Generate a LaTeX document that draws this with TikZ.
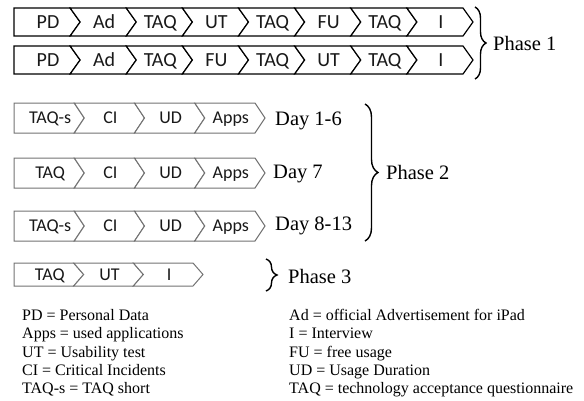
\documentclass[tikz,border=0pt]{standalone}
\usepackage{fontspec}
\setmainfont{Liberation Serif}
\newfontfamily\carl{Carlito}
\usetikzlibrary{decorations.pathreplacing}
\tikzset{
  segA/.style={draw=black, line width=1.2pt, fill=white, line join=miter},
  segB/.style={draw=black!55, line width=1pt, fill=white, line join=miter},
  bracestyle/.style={decorate, line width=1.4pt, draw=black},
  phaselabel/.style={anchor=base west, inner sep=0pt, font=\fontsize{20.5}{24}\selectfont},
  daylabel/.style={anchor=base west, inner sep=0pt, font=\fontsize{20.5}{24}\selectfont},
  legend/.style={anchor=base west, inner sep=0pt, font=\fontsize{16}{18}\selectfont},
}
\newcommand{\chevrow}[7]{%
  \foreach \lab [count=\i from 0] in {#7} {%
    \pgfmathsetmacro\xa{14+\i*#4}%
    \pgfmathsetmacro\xb{14+(\i+1)*#4}%
    \pgfmathsetmacro\ym{#2+#3/2}%
    \ifnum\i=0
      \draw[#5] (\xa,#2) -- (\xb,#2) -- (\xb+10,\ym) -- (\xb,#2+#3) -- (\xa,#2+#3) -- cycle;
    \else
      \draw[#5] (\xa,#2) -- (\xb,#2) -- (\xb+10,\ym) -- (\xb,#2+#3) -- (\xa,#2+#3) -- (\xa+10,\ym) -- cycle;
    \fi
    \node[anchor=base, inner sep=0pt, text=black!90, font=\carl\fontsize{#6}{#6}\selectfont] (#1-\i) at ({(\xa+\xb+10)/2+1}, {\ym+0.322*#6}) {\lab};
  }%
}
\begin{document}
\begin{tikzpicture}[x=1pt, y=-1pt]
\useasboundingbox (0,0) rectangle (584,400);
% Phase 1
\chevrow{ra}{8}{28}{56.125}{segA}{20}{PD,Ad,TAQ,UT,TAQ,FU,TAQ,I}
\chevrow{rb}{46}{28}{56.125}{segA}{20}{PD,Ad,TAQ,FU,TAQ,UT,TAQ,I}
% Phase 2
\chevrow{rc}{103}{30}{60.25}{segB}{18}{TAQ-s,CI,UD,Apps}
\chevrow{rd}{158}{30}{60.25}{segB}{18}{TAQ,CI,UD,Apps}
\chevrow{re}{211}{30}{60.25}{segB}{18}{TAQ-s,CI,UD,Apps}
% Phase 3
\chevrow{rf}{263}{23}{59.67}{segB}{18}{TAQ,UT,I}
% braces
\draw[bracestyle, decoration={brace, amplitude=11pt}] (475,7) coordinate (b1s) -- (475,79) coordinate (b1e);
\draw[bracestyle, decoration={brace, amplitude=13pt}] (365,104) coordinate (b2s) -- (365,241) coordinate (b2e);
\draw[bracestyle, decoration={brace, amplitude=11pt}] (266,259) coordinate (b3s) -- (266,291) coordinate (b3e);
% phase labels
\node[phaselabel] (ph1) at (493,50) {Phase 1};
\node[phaselabel] (ph2) at (386,179) {Phase 2};
\node[phaselabel] (ph3) at (288,283) {Phase 3};
% day labels
\node[daylabel] (d1) at (275,125.5) {Day 1-6};
\node[daylabel] (d2) at (273,178) {Day 7};
\node[daylabel] (d3) at (275,230) {Day 8-13};
% legend
\node[legend] (l1) at (22,320.5) {PD = Personal Data};
\node[legend] (l2) at (22,338.8) {Apps = used applications};
\node[legend] (l3) at (22,357.1) {UT = Usability test};
\node[legend] (l4) at (22,375.4) {CI = Critical Incidents};
\node[legend] (l5) at (22,393.7) {TAQ-s = TAQ short};
\node[legend] (r1) at (289,320.5) {Ad = official Advertisement for iPad};
\node[legend] (r2) at (289,338.8) {I = Interview};
\node[legend] (r3) at (289,357.1) {FU = free usage};
\node[legend] (r4) at (289,375.4) {UD = Usage Duration};
\node[legend] (r5) at (289,393.7) {TAQ = technology acceptance questionnaire};
\end{tikzpicture}
\end{document}
